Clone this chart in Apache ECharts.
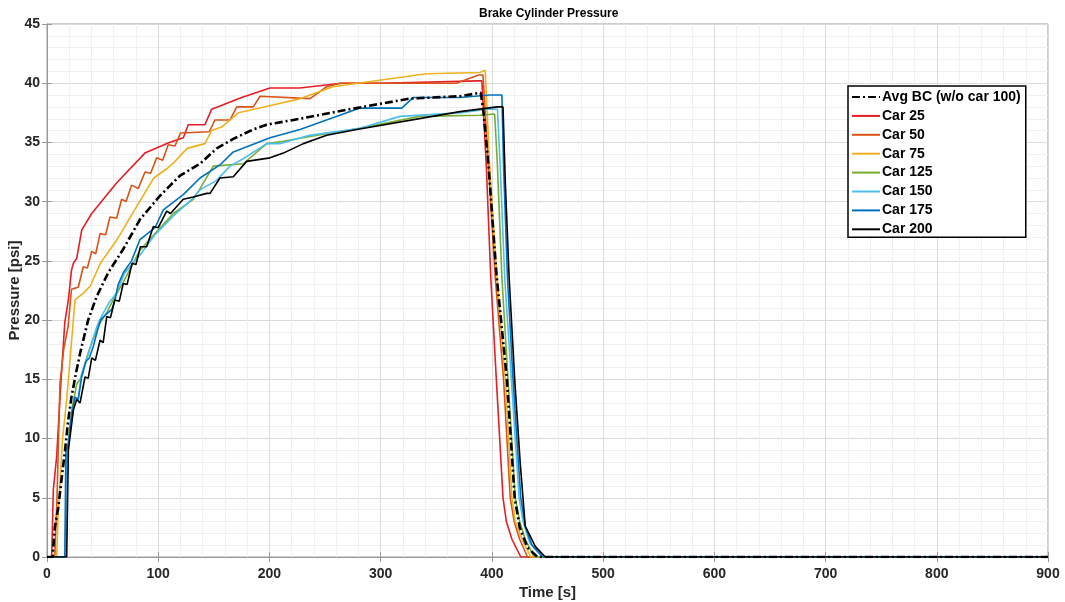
<!DOCTYPE html>
<html>
<head>
<meta charset="utf-8">
<title>Brake Cylinder Pressure</title>
<script src="https://cdn.jsdelivr.net/npm/echarts/dist/echarts.min.js"></script>
<style>
  html, body { margin: 0; padding: 0; background: #fff; }
  #chart { width: 1065px; height: 602px; }
</style>
</head>
<body>
<div id="chart"></div>
<script>
// [time s, pressure psi]
var avgBC = [[0,0],[5,0],[7,2.5],[10.2,4.2],[13,6.5],[16.2,9],[19,11.5],[22,13.5],[26,15.5],[30,17.3],[37,20],[44.7,22],[55,24],[68.6,26],[83.6,28.5],[101.6,30.5],[119.6,32.2],[137.6,33.2],[152.6,34.5],[167.5,35.3],[185.5,36.1],[197.5,36.5],[227.5,37],[272,37.8],[302,38.3],[326,38.7],[371,38.9],[390,39.2],[392.5,37.5],[397,33],[404,24],[413.5,15],[420.5,5],[425,2.5],[432,0.8],[441,0],[900,0]]
var car25 = [[0,0],[4.2,0],[5.7,5.7],[8.7,8.5],[12,14],[16,19.8],[19.2,21.7],[22,24.2],[23.7,24.8],[26.7,25.2],[31.2,27.6],[40.2,29],[62.7,31.6],[88,34.1],[110,35],[122.6,35.4],[127,36.5],[142,36.5],[148,37.8],[175,38.8],[200.5,39.6],[227,39.6],[265,40],[300,40],[388,40.2],[391,40.2],[395,33],[399,23.6],[404,15],[410,5],[413,3],[418,1.5],[426,0],[900,0]]
var car50 = [[0,0],[7,0],[9,5],[11.7,14.7],[15,17.5],[19,19.5],[22,22.6],[25.2,22.7],[28.2,22.8],[32.6,24.5],[36.3,24.4],[40.2,25.8],[43.8,25.6],[47.7,27.3],[52.7,27.2],[56.6,28.7],[62.6,28.6],[67.1,30.2],[71,30],[76.1,31.4],[82,31.1],[88.1,32.5],[93.2,32.4],[98.6,33.7],[104,33.5],[109,34.8],[115,34.7],[120,35.8],[146,35.9],[151,36.9],[164.5,36.9],[170.6,38],[185.5,38],[191.5,38.9],[236.5,38.7],[251.5,39.7],[263.4,40],[368,40],[388,40.7],[392,40.7],[397,33],[403,23.6],[410.5,15],[416.5,5],[420,3],[425,1.5],[432,0],[900,0]]
var car75 = [[0,0],[8.7,0],[10,3.5],[11.7,6.2],[14,10],[17.7,13.3],[21,17],[25.2,21.7],[33,22.3],[39,22.9],[48,24.8],[63,26.8],[80,29.5],[96,32],[108,32.8],[114,33.3],[126,34.5],[142,34.9],[148,36],[157,36.3],[172,37.5],[200,38.1],[228,38.7],[257,39.7],[341,40.8],[389,40.9],[394,41.1],[398,33],[404.5,23.6],[412,15],[418,5],[421,3],[427,1.5],[435,0],[900,0]]
var car125 = [[0,0],[16.5,0],[17.5,8],[20,10.5],[23,12.8],[26.7,14.6],[30,15],[34,16.3],[38,17.5],[42,18.5],[48,19.8],[54,20.7],[60,21.8],[68.6,23.2],[83.6,25.9],[97.1,27.3],[113.6,29],[131.5,30.2],[137.6,31.1],[149.5,33],[176.5,33.2],[197.5,34.9],[212.5,35.1],[236.5,35.5],[281.4,36.2],[335,37.2],[389,37.3],[402.5,37.4],[405,33],[409,23.6],[414.5,15],[421,5],[425,3],[430,1.5],[438,0],[900,0]]
var car150 = [[0,0],[17,0],[17.8,8.5],[20,10],[23,12],[25.5,13.5],[28,13.2],[31,15.4],[35,16.5],[40,18],[45,19.5],[50,20.5],[56,21.5],[62,22.2],[70,24],[83.6,25.5],[97,27.2],[113.6,28.8],[131.5,30.3],[137.6,31],[152.6,31.8],[164.5,33],[176,33.6],[197.5,34.9],[209.5,34.9],[236,35.6],[281.4,36.2],[317.4,37.2],[371,37.5],[395,37.8],[405,37.8],[407.5,33],[411.5,23.6],[417.5,15],[424.5,5],[428,3],[434,1.2],[445,0],[900,0]]
var car175 = [[0,0],[16,0],[17,9],[19.2,9.5],[22,12],[25.2,13.5],[28,13.3],[31.2,15.2],[35,16.5],[38,16.8],[41.7,17.8],[45,19],[48,20],[52.2,20.4],[58.2,20.9],[61.1,21.7],[64,23],[68.6,24],[76,25],[83.6,26.8],[97.1,27.8],[104.6,29.3],[122.5,30.6],[137.6,32],[155.5,33.1],[167.5,34.2],[200.5,35.4],[227.5,36.1],[281.4,37.9],[319,37.9],[329.4,38.8],[371.3,38.8],[398,39],[409,39],[410.5,33],[414,23.6],[419,15],[426,5],[430,2.6],[436,1],[446,0],[900,0]]
var car200 = [[0,0],[17.7,0],[19.2,9],[23.7,12.4],[26.7,13.3],[29.7,13],[34.2,15.2],[37.1,15.1],[40.2,16.8],[43.5,16.6],[47.7,18.3],[50.5,18.1],[53.7,20.3],[57,20.2],[61,21.7],[65,21.6],[68.6,23.1],[72,23],[76.5,24.8],[80,24.7],[84,26.2],[89.6,26.2],[95.6,27.9],[100,27.8],[107.6,29.2],[111,29],[122.5,30.2],[131.5,30.4],[143.6,30.7],[146.6,30.7],[155.5,32],[167.5,32.1],[179.5,33.4],[200.5,33.7],[212.5,34.1],[230.5,34.9],[251.5,35.6],[278.5,36.1],[371.3,37.6],[405,38],[410,38],[412,31.8],[415.5,23.6],[420.5,15],[425.5,7.9],[430,2.6],[439,0.9],[448,0],[900,0]]

var seriesNames = ['Avg BC (w/o car 100)', 'Car 25', 'Car 50', 'Car 75', 'Car 125', 'Car 150', 'Car 175', 'Car 200']
var seriesData = [avgBC, car25, car50, car75, car125, car150, car175, car200]

// matlab-like line colours
var colors = ['#000000', '#e41e26', '#d95319', '#edb120', '#77ac30', '#4dbeee', '#0072bd', '#000000']

var chart = echarts.init(document.getElementById('chart'))

var font = 'Liberation Sans, Arial, sans-serif'
var series = []
// draw cars first, average on top
for (var i = 1; i < seriesNames.length; i++) {
  series.push({
    name: seriesNames[i],
    type: 'line',
    data: seriesData[i],
    symbol: 'none',
    lineStyle: { color: colors[i], width: 1.6 },
    itemStyle: { color: colors[i] },
    z: 2 + i * 0.01
  })
}
series.push({
  name: seriesNames[0],
  type: 'line',
  data: seriesData[0],
  symbol: 'none',
  lineStyle: { color: '#000', width: 2.6, type: [8, 3, 2, 3] },
  itemStyle: { color: '#000' },
  z: 3
})

chart.setOption({
  animation: false,
  backgroundColor: '#fff',
  title: {
    text: 'Brake Cylinder Pressure',
    left: 474,
    top: 3,
    textStyle: { fontFamily: font, fontSize: 12, fontWeight: 'bold', color: '#000' }
  },
  legend: {
    data: seriesNames,
    orient: 'vertical',
    left: 848,
    top: 86,
    itemWidth: 28,
    itemHeight: 14,
    itemGap: 4.9,
    padding: [4, 5, 1, 3],
    backgroundColor: '#fff',
    borderColor: '#000',
    borderWidth: 1.5,
    borderRadius: 0,
    // hide the marker dot, keep only the line sample
    itemStyle: { opacity: 0 },
    textStyle: { fontFamily: font, fontSize: 14, fontWeight: 'bold', color: '#000', lineHeight: 14, padding: [0, 0, 0, -3] },
    z: 10
  },
  grid: {
    left: 47,
    right: 17,
    top: 24,
    bottom: 45,
    outerBoundsMode: 'none',
    containLabel: false,
    show: true,
    borderColor: '#9a9a9a',
    borderWidth: 1
  },
  xAxis: [{
    type: 'value',
    min: 0,
    max: 900,
    interval: 100,
    name: 'Time [s]',
    nameLocation: 'middle',
    nameGap: 28,
    nameMoveOverlap: false,
    nameTextStyle: { fontFamily: font, fontSize: 15, fontWeight: 'bold', color: '#262626' },
    axisLine: { show: true, lineStyle: { color: '#9a9a9a' } },
    axisTick: { show: true, inside: true, length: 5, lineStyle: { color: '#9a9a9a' } },
    axisLabel: { margin: 10, fontFamily: font, fontSize: 14, fontWeight: 'bold', color: '#262626' },
    splitLine: { show: true, lineStyle: { color: '#dcdcdc' } },
    minorTick: { show: false, splitNumber: 5 },
    minorSplitLine: { show: true, lineStyle: { color: '#f0f0f0' } }
  }, {
    type: 'value',
    position: 'top',
    min: 0,
    max: 900,
    interval: 100,
    axisLine: { show: false },
    axisTick: { show: true, inside: true, length: 5, lineStyle: { color: '#9a9a9a' } },
    axisLabel: { show: false },
    splitLine: { show: false }
  }],
  yAxis: [{
    type: 'value',
    min: 0,
    max: 45,
    interval: 5,
    name: 'Pressure [psi]',
    nameLocation: 'middle',
    nameGap: 25,
    nameMoveOverlap: false,
    nameTextStyle: { fontFamily: font, fontSize: 15, fontWeight: 'bold', color: '#262626' },
    axisLine: { show: true, lineStyle: { color: '#9a9a9a' } },
    axisTick: { show: true, inside: true, length: 5, lineStyle: { color: '#9a9a9a' } },
    axisLabel: { margin: 7, fontFamily: font, fontSize: 14, fontWeight: 'bold', color: '#262626' },
    splitLine: { show: true, lineStyle: { color: '#dcdcdc' } },
    minorTick: { show: false, splitNumber: 5 },
    minorSplitLine: { show: true, lineStyle: { color: '#f0f0f0' } }
  }, {
    type: 'value',
    position: 'right',
    min: 0,
    max: 45,
    interval: 5,
    axisLine: { show: false },
    axisTick: { show: true, inside: true, length: 5, lineStyle: { color: '#9a9a9a' } },
    axisLabel: { show: false },
    splitLine: { show: false }
  }],
  series: series
})
</script>
</body>
</html>
